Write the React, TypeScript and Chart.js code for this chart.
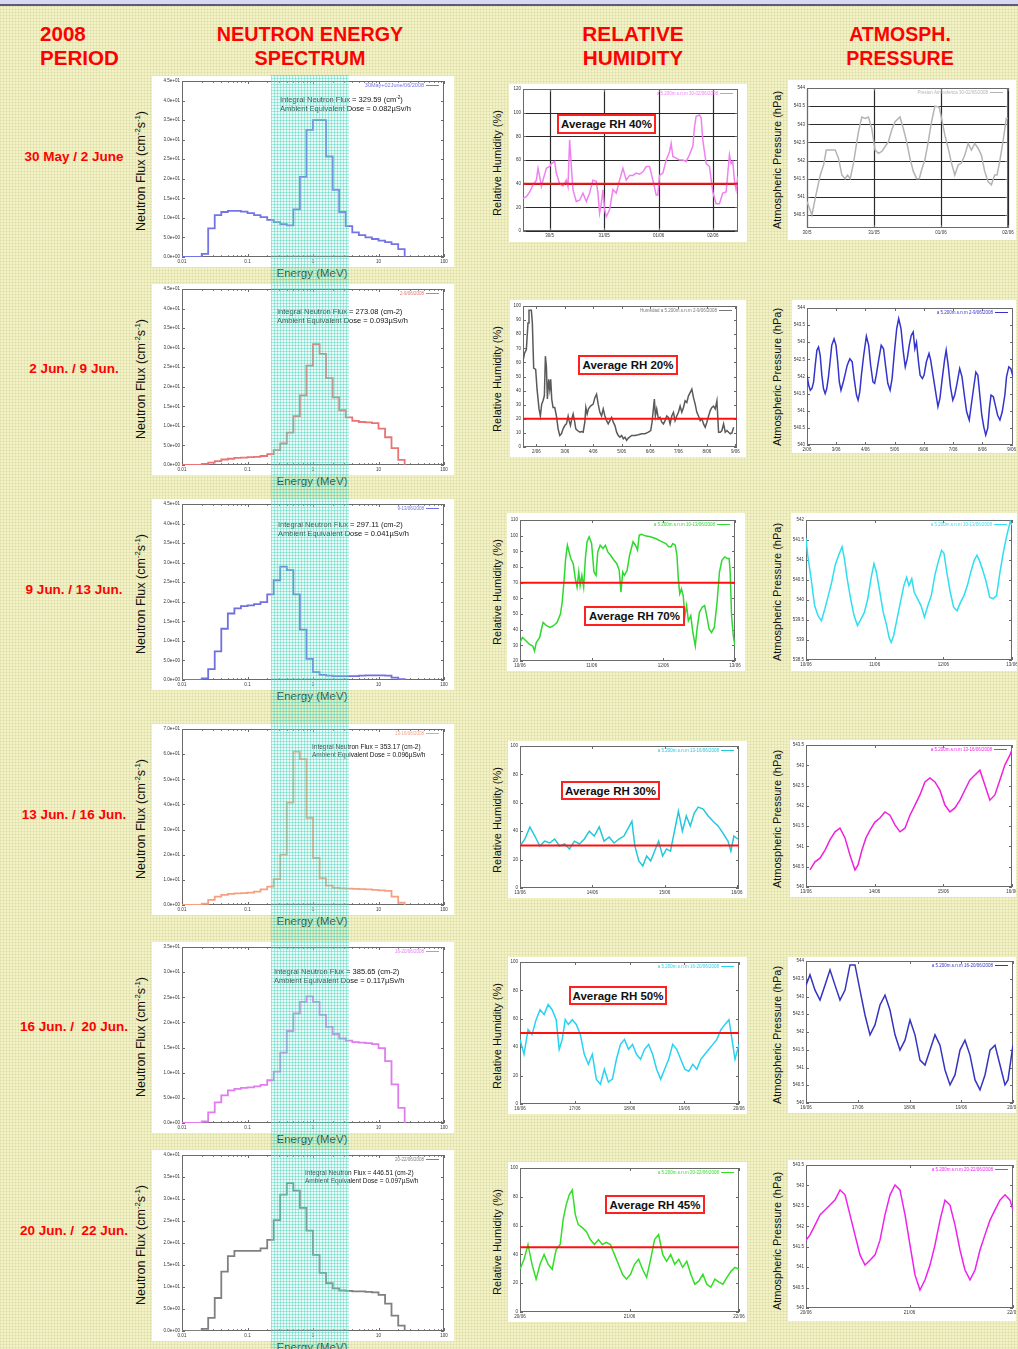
import React, { useEffect, useRef } from 'react';
import { Chart, registerables } from 'chart.js';

Chart.register(...registerables);

const FONT = '"Liberation Sans", Arial, Helvetica, sans-serif';

// ---------------- DATA ----------------
const PERIODS = ['30 May / 2 June', '2 Jun. / 9 Jun.', '9 Jun. / 13 Jun.', '13 Jun. / 16 Jun.', '16 Jun. /  20 Jun.', '20 Jun. /  22 Jun.'];

// neutron spectrum: bin lower edges (MeV)
const SPEC_EDGES = [0.01, 0.0126, 0.0158, 0.02, 0.0251, 0.0316, 0.0398, 0.0501, 0.0631, 0.0794, 0.1, 0.126, 0.158, 0.2, 0.251, 0.316, 0.398, 0.501, 0.631, 0.794, 1, 1.26, 1.58, 2, 2.51, 3.16, 3.98, 5.01, 6.31, 7.94, 10, 12.6, 15.8, 20, 25.1, 31.6];
const SPEC_30MAY_02JUN = [0, 0, 0, 0.8, 7.3, 10.7, 11.5, 11.8, 11.8, 11.6, 11.2, 10.7, 10.2, 9.5, 8.9, 8.4, 8.1, 12.2, 20.5, 32.5, 35, 35, 25.7, 17.2, 11.5, 7.9, 6.3, 5.6, 5.0, 4.6, 4.2, 3.8, 3.3, 2.0];
const SPEC_02JUN_09JUN = [0, 0, 0, 0.3, 0.6, 1.0, 1.4, 1.6, 1.8, 1.9, 2.0, 2.1, 2.3, 2.8, 3.8, 5.5, 8.3, 12.5, 17.8, 25.4, 30.9, 28.4, 22.2, 17.3, 14.0, 12.2, 11.3, 11.0, 10.9, 10.7, 9.3, 7.1, 4.3, 1.3];
const SPEC_09JUN_13JUN = [0, 0, 0, 0.4, 2.8, 7.3, 13.1, 17, 18.3, 18.9, 19.1, 19.4, 19.9, 21.9, 25.5, 29, 28.1, 21.9, 12.9, 5.4, 2.0, 1.3, 1.1, 1.0, 1.0, 1.0, 1.0, 1.1, 1.2, 1.2, 1.2, 1.1, 0.6, 0.2];
const SPEC_13JUN_16JUN = [0, 0, 0, 0.5, 2, 3.3, 4.0, 4.4, 4.6, 4.7, 4.9, 5.3, 6.2, 7.3, 10.3, 20, 40.7, 61, 58, 34.7, 18.7, 10.7, 7.7, 6.8, 6.6, 6.5, 6.4, 6.3, 6.2, 6.0, 5.8, 5.6, 3.3, 0.9];
const SPEC_16JUN_20JUN = [0, 0, 0, 0.3, 2.1, 4.1, 5.5, 6.5, 6.8, 7.0, 7.1, 7.3, 7.6, 8.5, 10.2, 14, 18.3, 21.8, 24.1, 25.2, 24.1, 21.5, 19.1, 17.7, 16.8, 16.4, 16.1, 16.0, 15.9, 15.7, 14.9, 12.3, 7.7, 3.0];
const SPEC_20JUN_22JUN = [0, 0, 0, 0.5, 3, 7.5, 13.5, 17.0, 18.2, 18.2, 18.2, 18.2, 18.8, 20.7, 25.2, 31, 33.6, 31.9, 28, 22.8, 17.3, 13.2, 10.9, 9.7, 9.2, 9.1, 9.0, 9.0, 8.9, 8.8, 8.2, 6.2, 3.5, 1.2];
const SPEC_SERIES = [SPEC_30MAY_02JUN, SPEC_02JUN_09JUN, SPEC_09JUN_13JUN, SPEC_13JUN_16JUN, SPEC_16JUN_20JUN, SPEC_20JUN_22JUN];
const SPEC_LEGENDS = ['30May+02June/06/2008', '2-9/06/2008', '9-13/06/2008', '13-16/06/2008', '16-20/06/2008', '20-22/06/2008'];
const SPEC_FLUX = ['329.59', '273.08', '297.11', '353.17', '385.65', '446.51'];
const SPEC_DOSE = ['0.082', '0.093', '0.041', '0.096', '0.117', '0.097'];
const SPEC_X_TICKS = [0.01, 0.02, 0.03, 0.04, 0.05, 0.06, 0.07, 0.08, 0.09, 0.1, 0.2, 0.3, 0.4, 0.5, 0.6, 0.7, 0.8, 0.9, 1, 2, 3, 4, 5, 6, 7, 8, 9, 10, 20, 30, 40, 50, 60, 70, 80, 90, 100];
const SPEC_X_MAJOR = [0.01, 0.1, 1, 10, 100];
const SPEC_X_LABELS = ['0.01', '0.1', '1', '10', '100'];
const SPEC_Y_VALUES = [0, 5, 10, 15, 20, 25, 30, 35, 40, 45, 50, 60, 70];
const SPEC_Y_LABELS = ['0.0e+00', '5.0e+00', '1.0e+01', '1.5e+01', '2.0e+01', '2.5e+01', '3.0e+01', '3.5e+01', '4.0e+01', '4.5e+01', '5.0e+01', '6.0e+01', '7.0e+01'];
const SPEC_Y_TICKS = [
  [0, 5, 10, 15, 20, 25, 30, 35, 40, 45],
  [0, 5, 10, 15, 20, 25, 30, 35, 40, 45],
  [0, 5, 10, 15, 20, 25, 30, 35, 40, 45],
  [0, 10, 20, 30, 40, 50, 60, 70],
  [0, 5, 10, 15, 20, 25, 30, 35],
  [0, 5, 10, 15, 20, 25, 30, 35, 40],
];
const SPEC_COLORS = ['#7474e6', '#ea7474', '#7070e0', '#f5a07e', '#e07cf0', '#808080'];

// relative humidity (x = day number)
const RH1_T = [-0.489, -0.428, -0.367, -0.306, -0.245, -0.214, -0.183, -0.153, -0.122, -0.061, 0, 0.031, 0.092, 0.122, 0.183, 0.245, 0.306, 0.336, 0.367, 0.398, 0.428, 0.489, 0.55, 0.612, 0.673, 0.734, 0.795, 0.856, 0.887, 0.917, 0.948, 0.979, 1.009, 1.04, 1.101, 1.162, 1.223, 1.284, 1.346, 1.407, 1.468, 1.529, 1.59, 1.651, 1.713, 1.774, 1.835, 1.896, 1.957, 1.988, 2.018, 2.08, 2.141, 2.202, 2.232, 2.263, 2.324, 2.385, 2.446, 2.508, 2.569, 2.63, 2.661, 2.691, 2.752, 2.783, 2.813, 2.875, 2.936, 2.997, 3.058, 3.119, 3.18, 3.242, 3.303, 3.333, 3.364, 3.394, 3.425, 3.456];
const RH1_V = [27.7, 29, 33, 39, 43, 53, 46, 37.6, 43, 53, 54.5, 57, 58.8, 49, 40, 38, 43, 37.6, 77, 54.5, 35, 25, 26, 32, 25, 32, 43, 42, 32, 15, 23, 35, 18, 12, 18, 35, 32, 43, 53, 43, 47, 47, 49, 48, 50, 54.5, 54.5, 43, 30.5, 30.5, 47, 49, 60, 67, 74, 63, 61.6, 60, 60, 58.8, 64.4, 71.5, 88, 97, 98, 95.5, 77, 57, 54.5, 33, 23, 23, 32, 33, 64.4, 57, 58.8, 43, 35, 46];
const RH2_T = [1.529, 1.588, 1.647, 1.706, 1.741, 1.824, 1.859, 1.906, 1.976, 2.024, 2.094, 2.141, 2.188, 2.235, 2.282, 2.318, 2.353, 2.388, 2.435, 2.471, 2.506, 2.541, 2.588, 2.647, 2.706, 2.765, 2.824, 2.882, 2.941, 3.0, 3.059, 3.118, 3.153, 3.2, 3.247, 3.294, 3.341, 3.388, 3.447, 3.529, 3.588, 3.647, 3.706, 3.741, 3.788, 3.835, 3.906, 4.0, 4.059, 4.118, 4.176, 4.235, 4.294, 4.353, 4.412, 4.471, 4.529, 4.588, 4.647, 4.706, 4.765, 4.824, 4.882, 4.941, 5.0, 5.059, 5.118, 5.176, 5.235, 5.353, 5.471, 5.588, 5.706, 5.824, 5.941, 6.024, 6.071, 6.118, 6.153, 6.188, 6.235, 6.294, 6.353, 6.412, 6.471, 6.529, 6.588, 6.647, 6.706, 6.765, 6.824, 6.882, 6.941, 7.0, 7.059, 7.118, 7.176, 7.235, 7.294, 7.353, 7.412, 7.471, 7.529, 7.588, 7.647, 7.706, 7.765, 7.824, 7.882, 7.941, 8.0, 8.059, 8.118, 8.176, 8.235, 8.294, 8.353, 8.412, 8.471, 8.529, 8.588, 8.647, 8.706, 8.765, 8.824, 8.882, 8.941];
const RH2_V = [61, 66.7, 69, 88, 97, 97, 88, 56, 55, 41, 27, 22, 30.4, 32.8, 36.3, 64.4, 57, 34, 48, 41, 48, 34, 28, 28, 22, 12.9, 8.2, 9.4, 12.9, 15.2, 16.4, 22, 18.7, 15.2, 20, 23.4, 18.7, 12.9, 11.7, 10.5, 11, 10.5, 17.6, 28, 23.4, 27, 29, 30.4, 35, 37.5, 30.4, 24.6, 22, 27, 22, 18.7, 16.4, 18.7, 21, 17.6, 15.2, 10.5, 8.2, 7, 8.2, 5.9, 7, 4.7, 6.3, 8.2, 8.2, 8.7, 9.4, 9.4, 10.5, 11.7, 17.6, 27, 34, 22, 27, 20, 21, 17.6, 16.4, 18.7, 22, 21, 16.4, 22, 24.6, 18.7, 22, 24.6, 29, 24.6, 28, 32.8, 31.6, 36.3, 38.6, 41, 35, 30.4, 24.6, 22, 18.7, 20, 16.4, 14, 17.6, 22, 25.8, 28, 29, 27, 32.8, 10.5, 10.5, 11.7, 16.4, 10.5, 11.7, 10.5, 9.4, 10, 14];
const RH3_T = [10.0, 10.034, 10.082, 10.13, 10.178, 10.203, 10.227, 10.275, 10.299, 10.323, 10.371, 10.42, 10.468, 10.516, 10.564, 10.589, 10.613, 10.637, 10.661, 10.685, 10.709, 10.743, 10.772, 10.796, 10.82, 10.839, 10.863, 10.888, 10.912, 10.936, 10.965, 10.999, 11.032, 11.061, 11.085, 11.119, 11.158, 11.192, 11.225, 11.264, 11.312, 11.351, 11.384, 11.409, 11.433, 11.457, 11.495, 11.529, 11.553, 11.577, 11.611, 11.64, 11.664, 11.698, 11.746, 11.819, 11.891, 11.963, 12.036, 12.074, 12.108, 12.132, 12.166, 12.19, 12.209, 12.229, 12.253, 12.277, 12.301, 12.325, 12.349, 12.383, 12.412, 12.446, 12.47, 12.504, 12.542, 12.576, 12.605, 12.639, 12.672, 12.711, 12.75, 12.783, 12.817, 12.856, 12.894, 12.918, 12.933, 12.952, 12.976, 13.0];
const RH3_V = [31.8, 35, 32.9, 30.7, 29.6, 26.4, 31.8, 35, 40.4, 44.6, 42.5, 41.4, 42.5, 44.6, 50, 57.5, 70.4, 85.4, 93.9, 89.6, 85.4, 82.1, 72.5, 67.1, 76.8, 68.2, 74.6, 67.1, 85.4, 96.1, 99.3, 95, 76.8, 74.6, 89.6, 93.9, 91.8, 93.9, 89.6, 87.5, 84.3, 82.1, 77.9, 63.9, 76.8, 74.6, 77.9, 87.5, 91.8, 96.1, 93.9, 90.7, 100.4, 100.8, 99.9, 99.3, 98.2, 96.5, 95, 92.9, 92.9, 95, 93.9, 87.5, 72.5, 62.9, 66.1, 61.8, 48.9, 55.4, 45.7, 48.9, 38.2, 29.6, 40.4, 51.1, 54.3, 55.4, 48.9, 40.4, 38.2, 41.4, 57.5, 76.8, 84.3, 86.4, 85.4, 85.4, 76.8, 48.9, 36.1, 29.6];
const RH4_T = [13.0, 13.068, 13.137, 13.205, 13.274, 13.342, 13.411, 13.479, 13.548, 13.616, 13.685, 13.753, 13.822, 13.89, 13.959, 14.027, 14.096, 14.164, 14.233, 14.301, 14.37, 14.438, 14.507, 14.548, 14.589, 14.644, 14.699, 14.753, 14.808, 14.863, 14.918, 14.973, 15.027, 15.082, 15.137, 15.192, 15.247, 15.301, 15.356, 15.411, 15.466, 15.534, 15.603, 15.671, 15.74, 15.808, 15.877, 15.918, 15.959, 16.014];
const RH4_V = [29.6, 34.5, 43, 36.6, 29.6, 33, 31.7, 34.5, 29.6, 31, 27.5, 33, 31, 34.5, 40, 36.6, 43, 33, 35.9, 31.7, 34.5, 36.6, 43, 47, 29.6, 19, 15.5, 22.5, 19, 26, 33, 22.5, 27.5, 26, 40, 54, 40, 50.7, 43.7, 52.8, 57, 55.6, 50.7, 47, 43.7, 38.7, 33, 26, 36.6, 34.5];
const RH5_T = [16.0, 16.073, 16.147, 16.22, 16.294, 16.367, 16.44, 16.514, 16.587, 16.661, 16.716, 16.771, 16.826, 16.881, 16.954, 17.028, 17.101, 17.174, 17.248, 17.321, 17.394, 17.468, 17.541, 17.615, 17.688, 17.761, 17.835, 17.908, 17.982, 18.055, 18.128, 18.202, 18.275, 18.349, 18.422, 18.495, 18.569, 18.642, 18.716, 18.789, 18.862, 18.936, 19.009, 19.083, 19.156, 19.229, 19.303, 19.376, 19.45, 19.523, 19.596, 19.67, 19.743, 19.817, 19.872, 19.927, 20.0];
const RH5_V = [45.5, 35, 52.4, 49, 59.4, 66.4, 63, 70, 66.4, 59.4, 38.5, 45.5, 59.4, 56, 59.4, 56, 49, 35, 28, 35, 17.5, 14, 24.5, 15.4, 17.5, 31.5, 42, 45.5, 38.5, 42, 35, 31.5, 38.5, 42, 35, 24.5, 17.5, 24.5, 31.5, 42, 38.5, 31.5, 24.5, 23, 28, 24.5, 31.5, 35, 38.5, 42, 45.5, 52.4, 56, 59.4, 45.5, 31.5, 42];
const RH6_T = [20.0, 20.037, 20.073, 20.11, 20.147, 20.183, 20.22, 20.257, 20.294, 20.33, 20.367, 20.394, 20.422, 20.45, 20.477, 20.505, 20.532, 20.569, 20.606, 20.642, 20.679, 20.716, 20.752, 20.789, 20.826, 20.862, 20.899, 20.936, 20.972, 21.009, 21.046, 21.083, 21.119, 21.156, 21.193, 21.229, 21.266, 21.303, 21.339, 21.376, 21.413, 21.45, 21.486, 21.523, 21.56, 21.596, 21.633, 21.67, 21.706, 21.743, 21.78, 21.817, 21.853, 21.89, 21.927, 21.963, 22.0];
const RH6_V = [29.7, 36.6, 46.9, 33.1, 22.8, 33.1, 40, 33.1, 29.7, 43.4, 46.9, 64.1, 74.5, 81.4, 84.8, 67.6, 60.7, 58.6, 55.9, 50.3, 46.9, 50.3, 46.9, 48.3, 46.9, 40, 33.1, 26.2, 22.8, 26.2, 33.1, 36.6, 29.7, 24.1, 36.6, 50.3, 53.8, 40, 35.2, 40, 33.1, 36.6, 31, 35.2, 26.2, 19.3, 21.4, 26.2, 19.3, 17.2, 22.8, 20.7, 19.3, 24.1, 28.3, 31, 29.7];
const RH_AVERAGES = [40, 20, 70, 30, 50, 45];

// atmospheric pressure (hPa)
const P1_T = [0, 0.074, 0.124, 0.198, 0.248, 0.288, 0.347, 0.421, 0.471, 0.521, 0.57, 0.605, 0.645, 0.694, 0.744, 0.768, 0.818, 0.868, 0.917, 0.967, 1.016, 1.066, 1.116, 1.165, 1.215, 1.264, 1.314, 1.388, 1.438, 1.487, 1.537, 1.587, 1.636, 1.676, 1.71, 1.76, 1.81, 1.859, 1.909, 1.973, 2.008, 2.058, 2.107, 2.157, 2.206, 2.256, 2.305, 2.355, 2.405, 2.454, 2.504, 2.553, 2.603, 2.652, 2.702, 2.752, 2.801, 2.836, 2.876, 2.925, 2.975, 3.0];
const P1_V = [540.87, 540.5, 540.97, 541.6, 541.88, 542.29, 542.29, 542.29, 542.06, 541.6, 541.5, 541.6, 541.5, 541.93, 542.52, 542.79, 543.2, 543.16, 543.2, 542.88, 542.29, 542.2, 542.25, 542.38, 542.52, 542.84, 543.07, 543.2, 542.88, 542.52, 542.06, 541.7, 541.5, 541.5, 541.74, 542.02, 542.52, 543.07, 543.5, 543.47, 543.16, 542.7, 542.34, 541.93, 541.6, 541.88, 541.93, 542.15, 542.47, 542.29, 542.47, 542.34, 542.15, 541.7, 541.42, 541.33, 541.6, 541.6, 541.97, 542.52, 543.16, 543.16];
const P2_T = [2.0, 2.056, 2.113, 2.169, 2.226, 2.282, 2.339, 2.395, 2.451, 2.508, 2.564, 2.621, 2.677, 2.734, 2.79, 2.847, 2.926, 2.993, 3.05, 3.106, 3.163, 3.242, 3.298, 3.377, 3.467, 3.546, 3.614, 3.693, 3.749, 3.806, 3.862, 3.941, 4.032, 4.111, 4.178, 4.257, 4.314, 4.37, 4.46, 4.54, 4.619, 4.686, 4.765, 4.844, 4.912, 4.991, 5.07, 5.138, 5.217, 5.296, 5.363, 5.431, 5.499, 5.567, 5.634, 5.691, 5.747, 5.815, 5.871, 5.95, 6.007, 6.086, 6.176, 6.233, 6.312, 6.402, 6.481, 6.549, 6.628, 6.707, 6.763, 6.831, 6.91, 6.989, 7.056, 7.135, 7.226, 7.305, 7.384, 7.463, 7.553, 7.621, 7.7, 7.779, 7.847, 7.903, 7.982, 8.05, 8.117, 8.185, 8.242, 8.298, 8.377, 8.456, 8.524, 8.603, 8.682, 8.772, 8.828, 8.907, 8.975, 9.054];
const P2_V = [542.04, 541.75, 541.6, 541.65, 541.84, 542.33, 542.77, 542.86, 542.62, 542.04, 541.65, 541.5, 541.65, 541.99, 542.43, 542.91, 543.1, 542.91, 542.43, 541.84, 541.6, 541.84, 542.04, 542.33, 542.52, 542.43, 541.94, 541.46, 541.31, 541.55, 542.04, 542.62, 543.18, 542.91, 542.33, 541.84, 541.8, 542.04, 542.52, 542.91, 542.81, 542.33, 541.8, 541.6, 541.94, 542.72, 543.4, 543.69, 543.4, 542.72, 542.28, 542.52, 542.91, 543.2, 543.3, 542.81, 543.0, 542.43, 542.04, 541.94, 542.04, 542.43, 542.67, 542.48, 542.04, 541.55, 541.12, 541.36, 541.94, 542.48, 542.77, 542.33, 541.7, 541.31, 541.46, 541.8, 542.23, 541.99, 541.46, 540.97, 540.73, 541.16, 541.65, 542.13, 542.04, 541.55, 540.87, 540.53, 540.29, 540.49, 541.07, 541.46, 541.41, 541.12, 540.87, 540.73, 540.97, 541.46, 541.99, 542.28, 542.23, 541.99];
const P3_T = [10.0, 10.025, 10.075, 10.125, 10.175, 10.225, 10.275, 10.325, 10.375, 10.425, 10.475, 10.525, 10.56, 10.6, 10.65, 10.7, 10.75, 10.8, 10.85, 10.9, 10.95, 10.99, 11.025, 11.075, 11.125, 11.175, 11.21, 11.24, 11.275, 11.325, 11.375, 11.425, 11.465, 11.5, 11.54, 11.575, 11.625, 11.675, 11.725, 11.775, 11.825, 11.875, 11.925, 11.975, 12.01, 12.05, 12.1, 12.15, 12.2, 12.25, 12.3, 12.35, 12.4, 12.45, 12.49, 12.525, 12.575, 12.625, 12.675, 12.725, 12.775, 12.825, 12.875, 12.925, 12.975, 13.0];
const P3_V = [541.54, 541.12, 540.53, 539.86, 539.61, 539.48, 539.78, 540.11, 540.45, 540.87, 541.12, 541.33, 541.03, 540.53, 540.03, 539.61, 539.36, 539.52, 539.69, 540.03, 540.57, 540.91, 540.7, 540.2, 539.69, 539.36, 539.06, 538.94, 539.1, 539.52, 539.94, 540.36, 540.57, 540.36, 540.53, 540.2, 540.03, 539.86, 539.57, 539.86, 540.11, 540.61, 540.95, 541.24, 541.16, 540.7, 540.2, 539.82, 539.73, 539.94, 540.11, 540.36, 540.7, 540.99, 541.12, 540.99, 540.74, 540.45, 540.07, 540.03, 540.11, 540.7, 541.2, 541.62, 541.96, 541.87];
const P4_T = [13.058, 13.131, 13.204, 13.277, 13.349, 13.422, 13.495, 13.568, 13.64, 13.713, 13.757, 13.815, 13.873, 13.932, 14.004, 14.077, 14.15, 14.223, 14.295, 14.368, 14.441, 14.514, 14.587, 14.659, 14.732, 14.805, 14.878, 14.95, 15.023, 15.096, 15.169, 15.242, 15.314, 15.387, 15.46, 15.533, 15.606, 15.678, 15.751, 15.824, 15.897, 15.969, 16.0];
const P4_V = [540.42, 540.62, 540.71, 540.91, 541.16, 541.36, 541.45, 541.21, 540.79, 540.42, 540.54, 540.91, 541.21, 541.4, 541.6, 541.7, 541.85, 541.77, 541.53, 541.36, 541.45, 541.77, 542.02, 542.27, 542.59, 542.69, 542.59, 542.39, 542.02, 541.85, 541.95, 542.14, 542.39, 542.64, 542.76, 542.88, 542.51, 542.14, 542.27, 542.64, 543.01, 543.25, 543.38];
const P5_T = [16.0, 16.077, 16.174, 16.271, 16.367, 16.464, 16.56, 16.657, 16.754, 16.85, 16.947, 17.043, 17.14, 17.237, 17.333, 17.43, 17.527, 17.623, 17.72, 17.816, 17.913, 18.01, 18.106, 18.203, 18.3, 18.396, 18.493, 18.589, 18.686, 18.783, 18.879, 18.976, 19.072, 19.169, 19.266, 19.362, 19.459, 19.556, 19.652, 19.749, 19.845, 19.903, 20.0];
const P5_V = [543.32, 543.61, 543.18, 542.9, 543.32, 543.75, 543.32, 542.9, 543.18, 543.89, 543.89, 543.18, 542.48, 541.92, 542.2, 542.76, 543.04, 542.62, 541.92, 541.49, 541.77, 542.34, 541.92, 541.21, 541.07, 541.49, 541.92, 541.63, 540.93, 540.51, 540.79, 541.49, 541.77, 541.35, 540.65, 540.37, 540.79, 541.49, 541.63, 541.07, 540.51, 540.65, 541.63];
const P6_T = [20.0, 20.039, 20.087, 20.135, 20.184, 20.232, 20.28, 20.329, 20.377, 20.425, 20.473, 20.522, 20.57, 20.618, 20.667, 20.715, 20.763, 20.812, 20.86, 20.908, 20.957, 21.005, 21.053, 21.101, 21.15, 21.198, 21.246, 21.295, 21.343, 21.391, 21.44, 21.488, 21.536, 21.585, 21.633, 21.681, 21.729, 21.778, 21.826, 21.874, 21.923, 21.971, 22.0];
const P6_V = [541.66, 541.79, 542.03, 542.28, 542.4, 542.52, 542.64, 542.89, 542.77, 542.28, 541.79, 541.3, 541.05, 541.17, 541.3, 541.66, 542.28, 542.77, 543.01, 542.89, 542.28, 541.54, 540.81, 540.44, 540.69, 541.05, 541.54, 542.15, 542.64, 542.52, 542.03, 541.42, 540.93, 540.69, 540.93, 541.42, 541.79, 542.15, 542.4, 542.64, 542.77, 542.64, 542.4];

// axis ticks for the time plots
const X_TICKS_1 = [0, 1, 2, 3];
const X_LABELS_1 = ['30/5', '31/05', '01/06', '02/06'];
const X_TICKS_2 = [2, 3, 4, 5, 6, 7, 8, 9];
const X_LABELS_2 = ['2/06', '3/06', '4/06', '5/06', '6/06', '7/06', '8/06', '9/06'];
const X_TICKS_3 = [10, 11, 12, 13];
const X_LABELS_3 = ['10/06', '11/06', '12/06', '13/06'];
const X_TICKS_4 = [13, 14, 15, 16];
const X_LABELS_4 = ['13/06', '14/06', '15/06', '16/06'];
const X_TICKS_5 = [16, 17, 18, 19, 20];
const X_LABELS_5 = ['16/06', '17/06', '18/06', '19/06', '20/06'];
const X_TICKS_6 = [20, 21, 22];
const X_LABELS_6 = ['20/06', '21/06', '22/06'];

const RH_Y_TICKS = [
  [0, 20, 40, 60, 80, 100, 120],
  [0, 10, 20, 30, 40, 50, 60, 70, 80, 90, 100],
  [20, 30, 40, 50, 60, 70, 80, 90, 100, 110],
  [0, 20, 40, 60, 80, 100],
  [0, 20, 40, 60, 80, 100],
  [0, 20, 40, 60, 80, 100],
];
const P_Y_TICKS = [
  [540.5, 541, 541.5, 542, 542.5, 543, 543.5, 544],
  [540, 540.5, 541, 541.5, 542, 542.5, 543, 543.5, 544],
  [538.5, 539, 539.5, 540, 540.5, 541, 541.5, 542],
  [540, 540.5, 541, 541.5, 542, 542.5, 543, 543.5],
  [540, 540.5, 541, 541.5, 542, 542.5, 543, 543.5, 544],
  [540, 540.5, 541, 541.5, 542, 542.5, 543, 543.5],
];

// ---------------- LAYOUT ----------------
const SPEC_TOPS = [76, 284, 499, 724, 942, 1150];
const PERIOD_Y = [156, 368, 589, 814, 1026, 1230];
const SPEC_NOTES = [[280, 95, 7.5], [277, 307, 7.5], [278, 520, 7.5], [312, 743, 6.5], [274, 967, 7.5], [305, 1169, 6.5]];
const RH_BOXES = [[509, 84, 238, 158], [510, 300, 236, 157], [507, 513, 238, 158], [508, 741, 239, 157], [508, 957, 239, 157], [508, 1162, 239, 160]];
const RH_INSETS = [[14, 5, 9, 11], [13, 6, 9, 10], [13, 7, 10, 10], [12, 5, 8, 10], [12, 5, 8, 10], [12, 6, 8, 10]];
const P_BOXES = [[788, 80, 228, 160], [792, 300, 224, 153], [791, 513, 226, 158], [790, 740, 226, 157], [788, 957, 228, 156], [788, 1160, 228, 161]];
const P_INSETS = [[19, 8, 8, 12], [15, 8, 3, 8], [15, 7, 5, 11], [16, 5, 4, 10], [18, 4, 3, 10], [18, 5, 3, 13]];
const AVG_BOXES = [[557, 114, 99, 20], [578, 355, 100, 20], [584, 606, 101, 20], [561, 781, 99, 19], [569, 986, 98, 19], [605, 1195, 100, 19]];

// ---------------- PLUGINS ----------------
const gnuFrame = {
  id: 'gnuFrame',
  beforeDatasetsDraw(chart: any, _args: any, opts: any) {
    const { ctx, chartArea: a, scales } = chart;
    const xs = scales.x;
    const ys = scales.y;
    ctx.save();
    if (opts && opts.grid) {
      ctx.strokeStyle = '#2a2a2a';
      ctx.lineWidth = 1.2;
      ctx.beginPath();
      for (const t of ys.ticks) {
        const py = Math.round(ys.getPixelForValue(t.value)) + 0.5;
        ctx.moveTo(a.left, py);
        ctx.lineTo(a.right, py);
      }
      for (const t of xs.ticks) {
        const px = Math.round(xs.getPixelForValue(t.value)) + 0.5;
        ctx.moveTo(px, a.top);
        ctx.lineTo(px, a.bottom);
      }
      ctx.stroke();
    }
    ctx.strokeStyle = '#6a6a6a';
    ctx.lineWidth = 1;
    ctx.beginPath();
    for (const t of xs.ticks) {
      const px = Math.round(xs.getPixelForValue(t.value)) + 0.5;
      const len = t.label ? 3 : 1.8;
      ctx.moveTo(px, a.bottom);
      ctx.lineTo(px, a.bottom - len);
      ctx.moveTo(px, a.top);
      ctx.lineTo(px, a.top + len);
    }
    for (const t of ys.ticks) {
      const py = Math.round(ys.getPixelForValue(t.value)) + 0.5;
      ctx.moveTo(a.left, py);
      ctx.lineTo(a.left + 3, py);
      ctx.moveTo(a.right, py);
      ctx.lineTo(a.right - 3, py);
    }
    ctx.stroke();
    ctx.strokeRect(Math.round(a.left) + 0.5, Math.round(a.top) + 0.5, Math.round(a.right - a.left) - 1, Math.round(a.bottom - a.top) - 1);
    ctx.restore();
  },
};

const miniLegend = {
  id: 'miniLegend',
  afterDatasetsDraw(chart: any, _args: any, o: any) {
    if (!o || !o.text) return;
    const { ctx, chartArea: a } = chart;
    const y = a.top + 4.5;
    ctx.save();
    ctx.font = `${o.size || 4.5}px ${FONT}`;
    ctx.fillStyle = o.color;
    ctx.textAlign = 'right';
    ctx.textBaseline = 'middle';
    ctx.fillText(o.text, a.right - 20, y);
    ctx.strokeStyle = o.color;
    ctx.lineWidth = 1;
    ctx.beginPath();
    ctx.moveTo(a.right - 18, y);
    ctx.lineTo(a.right - 5, y);
    ctx.stroke();
    ctx.restore();
  },
};

function labelFrom(values: number[], labels: string[], v: number) {
  for (let i = 0; i < values.length; i++) if (Math.abs(values[i] - v) < 1e-9) return labels[i];
  return '';
}

function baseOptions(p: any) {
  const [L, T, R, B] = p.inset;
  const tickFont = { family: FONT, size: 4.5 };
  return {
    animation: false,
    responsive: false,
    maintainAspectRatio: false,
    devicePixelRatio: 1,
    events: [],
    layout: { padding: { left: 0, top: T, right: R, bottom: 0 } },
    plugins: {
      legend: { display: false },
      tooltip: { enabled: false },
      gnuFrame: { grid: !!p.grid },
      miniLegend: { text: p.legend, color: p.legendColor || p.color, size: p.legendSize || 4.5 },
    },
    scales: {
      x: {
        type: p.xType || 'linear',
        min: p.xMin,
        max: p.xMax,
        grid: { display: false, drawTicks: false, tickLength: 0 },
        border: { display: false },
        afterBuildTicks: (s: any) => { s.ticks = p.xTicks.map((value: number) => ({ value })); },
        afterFit: (s: any) => { s.height = B; s.paddingLeft = 0; s.paddingRight = 0; },
        ticks: {
          autoSkip: false, maxRotation: 0, minRotation: 0, padding: 2, color: '#333', font: tickFont,
          callback: (v: any) => labelFrom(p.xLabelValues, p.xLabels, Number(v)),
        },
      },
      y: {
        type: 'linear',
        min: p.yMin,
        max: p.yMax,
        grid: { display: false, drawTicks: false, tickLength: 0 },
        border: { display: false },
        afterBuildTicks: (s: any) => { s.ticks = p.yTicks.map((value: number) => ({ value })); },
        afterFit: (s: any) => { s.width = L; s.paddingTop = 0; s.paddingBottom = 0; },
        ticks: {
          autoSkip: false, padding: 2, color: '#333', font: tickFont,
          callback: (v: any) => (p.yLabels ? labelFrom(p.yLabelValues, p.yLabels, Number(v)) : String(v)),
        },
      },
    },
  };
}

function specConfig(i: number) {
  const vals = SPEC_SERIES[i];
  const pts = vals.map((v, k) => ({ x: SPEC_EDGES[k], y: v }));
  pts.push({ x: SPEC_EDGES[vals.length], y: 0 });
  const yTicks = SPEC_Y_TICKS[i];
  const p = {
    inset: [30, 5, 10, 10],
    xType: 'logarithmic', xMin: 0.01, xMax: 100, xTicks: SPEC_X_TICKS, xLabelValues: SPEC_X_MAJOR, xLabels: SPEC_X_LABELS,
    yMin: 0, yMax: yTicks[yTicks.length - 1], yTicks, yLabelValues: SPEC_Y_VALUES, yLabels: SPEC_Y_LABELS,
    legend: SPEC_LEGENDS[i], color: SPEC_COLORS[i], legendSize: i === 0 ? 5.5 : 4.5,
  };
  return {
    type: 'line',
    data: { datasets: [{ data: pts, borderColor: SPEC_COLORS[i], borderWidth: 1.8, pointRadius: 0, fill: false, stepped: 'before' }] },
    options: baseOptions(p),
    plugins: [gnuFrame, miniLegend],
  };
}

function timeConfig(p: any) {
  const n = Math.min(p.t.length, p.v.length);
  const data = p.t.slice(0, n).map((x: number, k: number) => ({ x, y: p.v[k] }));
  const datasets: any[] = [];
  if (p.avg !== undefined) {
    datasets.push({ data: [{ x: p.xMin, y: p.avg }, { x: p.xMax, y: p.avg }], borderColor: '#ff1010', borderWidth: 2, pointRadius: 0, fill: false });
  }
  datasets.push({ data, borderColor: p.color, borderWidth: p.width || 1.3, pointRadius: 0, fill: false, tension: 0 });
  return {
    type: 'line',
    data: { datasets },
    options: baseOptions({ ...p, xLabelValues: p.xTicks }),
    plugins: [gnuFrame, miniLegend],
  };
}

const RH_PANELS = [
  { t: RH1_T, v: RH1_V, color: '#f080f0', xMin: -0.49, xMax: 3.46, xTicks: X_TICKS_1, xLabels: X_LABELS_1, yMin: 0, yMax: 120, grid: true, legend: 'a 5.200m.s.n.m 30-02/06/2008' },
  { t: RH2_T, v: RH2_V, color: '#5a5a5a', xMin: 1.53, xMax: 9.06, xTicks: X_TICKS_2, xLabels: X_LABELS_2, yMin: 0, yMax: 100, legend: 'Humedad a 5.200m.s.n.m 2-9/06/2008', legendColor: '#777' },
  { t: RH3_T, v: RH3_V, color: '#2ed82e', xMin: 10, xMax: 13, xTicks: X_TICKS_3, xLabels: X_LABELS_3, yMin: 20, yMax: 110, legend: 'a 5.200m.s.n.m 10-13/06/2008' },
  { t: RH4_T, v: RH4_V, color: '#22c8dc', xMin: 13, xMax: 16.03, xTicks: X_TICKS_4, xLabels: X_LABELS_4, yMin: 0, yMax: 100, legend: 'a 5.200m.s.n.m 13-16/06/2008' },
  { t: RH5_T, v: RH5_V, color: '#28d2f2', xMin: 16, xMax: 20, xTicks: X_TICKS_5, xLabels: X_LABELS_5, yMin: 0, yMax: 100, legend: 'a 5.200m.s.n.m 16-20/06/2008' },
  { t: RH6_T, v: RH6_V, color: '#33de26', xMin: 20, xMax: 22, xTicks: X_TICKS_6, xLabels: X_LABELS_6, yMin: 0, yMax: 100, legend: 'a 5.200m.s.n.m 20-22/06/2008' },
];

const P_PANELS = [
  { t: P1_T, v: P1_V, color: '#b4b4b4', xMin: 0, xMax: 3, xTicks: X_TICKS_1, xLabels: X_LABELS_1, yMin: 540.14, yMax: 544, grid: true, legend: 'Presion Atmosferica 30-02/06/2008' },
  { t: P2_T, v: P2_V, color: '#3434cc', xMin: 2, xMax: 9.05, xTicks: X_TICKS_2, xLabels: X_LABELS_2, yMin: 540, yMax: 544, legend: 'a 5.200m.s.n.m 2-9/06/2008' },
  { t: P3_T, v: P3_V, color: '#30def0', xMin: 10, xMax: 13, xTicks: X_TICKS_3, xLabels: X_LABELS_3, yMin: 538.5, yMax: 542, legend: 'a 5.200m.s.n.m 10-13/06/2008' },
  { t: P4_T, v: P4_V, color: '#ee22dc', xMin: 13, xMax: 16, xTicks: X_TICKS_4, xLabels: X_LABELS_4, yMin: 540, yMax: 543.5, legend: 'a 5.200m.s.n.m 13-16/06/2008' },
  { t: P5_T, v: P5_V, color: '#3434c0', xMin: 16, xMax: 20, xTicks: X_TICKS_5, xLabels: X_LABELS_5, yMin: 540, yMax: 544, legend: 'a 5.200m.s.n.m 16-20/06/2008' },
  { t: P6_T, v: P6_V, color: '#ee22ee', xMin: 20, xMax: 22, xTicks: X_TICKS_6, xLabels: X_LABELS_6, yMin: 540, yMax: 543.5, legend: 'a 5.200m.s.n.m 20-22/06/2008' },
];

// ---------------- COMPONENTS ----------------
function ChartBox({ box, make }: { box: number[]; make: () => any }) {
  const ref = useRef<HTMLCanvasElement | null>(null);
  useEffect(() => {
    if (!ref.current) return;
    const chart = new Chart(ref.current, make());
    return () => chart.destroy();
  }, []);
  const [x, y, w, h] = box;
  return (
    <div style={{ position: 'absolute', left: x, top: y, width: w, height: h, background: '#ffffff', zIndex: 1 }}>
      <canvas ref={ref} width={w} height={h} style={{ display: 'block', width: w, height: h }} />
    </div>
  );
}

function VLabel({ cx, cy, size, children }: any) {
  return (
    <div style={{ position: 'absolute', left: cx, top: cy, transform: 'translate(-50%, -50%) rotate(-90deg)', whiteSpace: 'nowrap', fontSize: size, color: '#111', zIndex: 2, lineHeight: 1 }}>
      {children}
    </div>
  );
}

const RED = '#ff0000';
const sup = { fontSize: '0.62em', verticalAlign: 'super', lineHeight: 0 } as any;

export default function App() {
  useEffect(() => { document.body.style.margin = '0'; }, []);
  const header = (left: number, center: boolean, l1: string, l2: string, sx: number) => (
    <div style={{ position: 'absolute', left: center ? left - 150 : left, top: 22, width: center ? 300 : 200, textAlign: center ? 'center' : 'left', color: RED, fontWeight: 'bold', fontSize: 21, lineHeight: '24px', zIndex: 2, transform: `scaleX(${sx})`, transformOrigin: center ? '50% 50%' : '0 50%' }}>
      {l1}<br />{l2}
    </div>
  );
  return (
    <div style={{
      position: 'absolute', left: 0, top: 0, width: 1018, height: 1349, overflow: 'hidden', fontFamily: FONT,
      backgroundColor: '#f2f2c4',
      backgroundImage: 'linear-gradient(rgba(185,185,130,0.2) 1px, transparent 1px), linear-gradient(90deg, rgba(185,185,130,0.2) 1px, transparent 1px)',
      backgroundSize: '3px 3px',
    }}>
      <div style={{ position: 'absolute', left: 0, top: 0, width: 1018, height: 4, background: '#d8d8f2' }} />
      <div style={{ position: 'absolute', left: 0, top: 4, width: 1018, height: 1.5, background: '#5a5a7a' }} />

      {header(40, false, '2008', 'PERIOD', 0.98)}
      {header(310, true, 'NEUTRON ENERGY', 'SPECTRUM', 0.94)}
      {header(633, true, 'RELATIVE', 'HUMIDITY', 0.99)}
      {header(900, true, 'ATMOSPH.', 'PRESSURE', 0.93)}

      {PERIODS.map((txt, i) => (
        <div key={'per' + i} style={{ position: 'absolute', left: 74, top: PERIOD_Y[i], transform: 'translate(-50%, -50%)', whiteSpace: 'pre', color: RED, fontWeight: 'bold', fontSize: 13.5 }}>{txt}</div>
      ))}

      {SPEC_TOPS.map((top, i) => (
        <React.Fragment key={'spec' + i}>
          <ChartBox box={[152, top, 302, 191]} make={() => specConfig(i)} />
          <VLabel cx={141} cy={top + 95} size={12.5}>
            Neutron Flux (cm<span style={sup}>-2</span>s<span style={sup}>-1</span>)
          </VLabel>
          <div style={{ position: 'absolute', left: 312, top: top + 197, transform: 'translate(-50%, -50%)', fontSize: 11.5, color: '#111', whiteSpace: 'nowrap', zIndex: 2 }}>Energy (MeV)</div>
          <div style={{ position: 'absolute', left: SPEC_NOTES[i][0], top: SPEC_NOTES[i][1], fontSize: SPEC_NOTES[i][2], lineHeight: (SPEC_NOTES[i][2] * 1.25) + 'px', color: '#111', whiteSpace: 'nowrap', zIndex: 2 }}>
            Integral Neutron Flux = {SPEC_FLUX[i]} {i === 0 ? <>(cm<span style={sup}>-2</span>)</> : '(cm-2)'}<br />
            Ambient Equivalent Dose = {SPEC_DOSE[i]}µSv/h
          </div>
        </React.Fragment>
      ))}

      {RH_PANELS.map((p, i) => (
        <React.Fragment key={'rh' + i}>
          <ChartBox box={RH_BOXES[i]} make={() => timeConfig({ ...p, inset: RH_INSETS[i], yTicks: RH_Y_TICKS[i], avg: RH_AVERAGES[i], width: 1.5 })} />
          <VLabel cx={497} cy={RH_BOXES[i][1] + RH_BOXES[i][3] / 2} size={11}>Relative Humidity (%)</VLabel>
          <div style={{
            position: 'absolute', left: AVG_BOXES[i][0], top: AVG_BOXES[i][1], width: AVG_BOXES[i][2], height: AVG_BOXES[i][3], boxSizing: 'border-box',
            border: '2px solid #ff2020', background: '#ffffff', color: '#111', fontWeight: 'bold', fontSize: 11.5, display: 'flex', alignItems: 'center', justifyContent: 'center', zIndex: 3, whiteSpace: 'nowrap',
          }}>Average RH {RH_AVERAGES[i]}%</div>
        </React.Fragment>
      ))}

      {P_PANELS.map((p, i) => (
        <React.Fragment key={'p' + i}>
          <ChartBox box={P_BOXES[i]} make={() => timeConfig({ ...p, inset: P_INSETS[i], yTicks: P_Y_TICKS[i], width: 1.5 })} />
          <VLabel cx={777} cy={P_BOXES[i][1] + P_BOXES[i][3] / 2} size={11}>Atmospheric Pressure (hPa)</VLabel>
        </React.Fragment>
      ))}

      <div style={{
        position: 'absolute', left: 271, top: 75, width: 78, height: 1274, zIndex: 5,
        backgroundColor: 'rgba(150, 235, 215, 0.22)',
        backgroundImage: 'linear-gradient(rgba(60,205,185,0.38) 1px, transparent 1px), linear-gradient(90deg, rgba(60,205,185,0.38) 1px, transparent 1px)',
        backgroundSize: '3px 3px',
      }} />
    </div>
  );
}
